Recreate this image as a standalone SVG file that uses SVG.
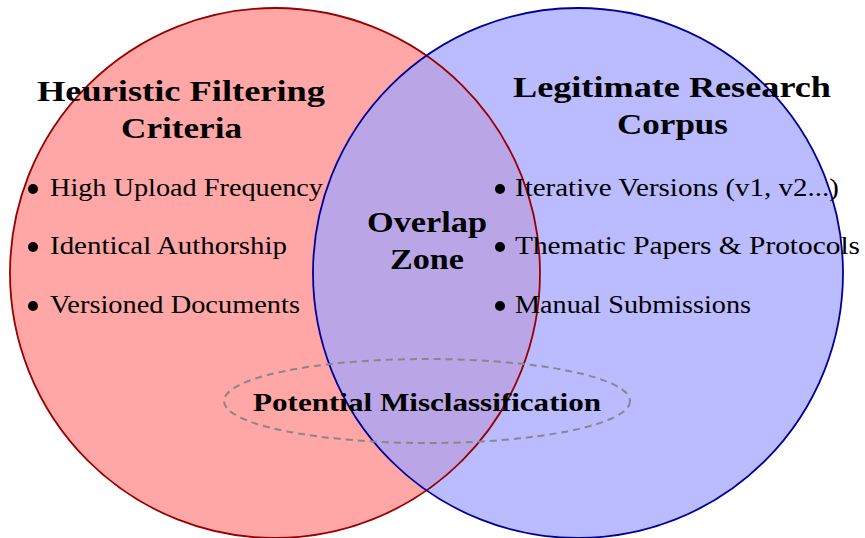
<svg xmlns="http://www.w3.org/2000/svg" width="865" height="538" viewBox="0 0 865 538">
<style>
.t{font-family:"Liberation Serif","Times New Roman",serif;fill:#000}
.b{font-weight:bold;font-size:30px;text-anchor:middle}
.r{font-size:26px}
.dot{fill:#000}
</style>
<defs>
<clipPath id="clipRed"><circle cx="275" cy="273" r="265"/></clipPath>
</defs>
<rect width="865" height="538" fill="#fff"/>
<g id="set-heuristic">
<circle cx="275" cy="273" r="265" fill="#FFA6A6"/>
</g>
<g id="set-legitimate">
<circle cx="578" cy="273" r="265" fill="#BBBBFF"/>
</g>
<g id="overlap">
<circle cx="578" cy="273" r="265" fill="#BAA6E6" clip-path="url(#clipRed)"/>
</g>
<g id="outlines">
<circle cx="275" cy="273" r="265" fill="none" stroke="#990000" stroke-width="1.8"/>
<circle cx="578" cy="273" r="265" fill="none" stroke="#000099" stroke-width="1.8"/>
</g>
<g id="misclassification">
<ellipse cx="427" cy="401" rx="203" ry="42" fill="none" stroke="#888" stroke-width="2" stroke-dasharray="7,5"/>
<text class="t b" x="427" y="411" textLength="348" lengthAdjust="spacingAndGlyphs" style="font-size:26px">Potential Misclassification</text>
</g>
<g id="heuristic-labels">
<text class="t b" x="181" y="101" textLength="288" lengthAdjust="spacingAndGlyphs">Heuristic Filtering</text>
<text class="t b" x="181.5" y="138" textLength="121" lengthAdjust="spacingAndGlyphs">Criteria</text>
<circle class="dot" cx="33" cy="189" r="5"/>
<text class="t r" x="50" y="196" textLength="273" lengthAdjust="spacingAndGlyphs">High Upload Frequency</text>
<circle class="dot" cx="33" cy="247" r="5"/>
<text class="t r" x="50" y="254" textLength="237" lengthAdjust="spacingAndGlyphs">Identical Authorship</text>
<circle class="dot" cx="33" cy="306" r="5"/>
<text class="t r" x="50" y="313" textLength="250" lengthAdjust="spacingAndGlyphs">Versioned Documents</text>
</g>
<g id="legitimate-labels">
<text class="t b" x="672" y="97" textLength="318" lengthAdjust="spacingAndGlyphs">Legitimate Research</text>
<text class="t b" x="672.5" y="134" textLength="111" lengthAdjust="spacingAndGlyphs">Corpus</text>
<circle class="dot" cx="500" cy="189" r="5"/>
<text class="t r" x="515" y="196" textLength="324" lengthAdjust="spacingAndGlyphs">Iterative Versions (v1, v2...)</text>
<circle class="dot" cx="500" cy="247" r="5"/>
<text class="t r" x="515" y="254" textLength="345" lengthAdjust="spacingAndGlyphs">Thematic Papers &amp; Protocols</text>
<circle class="dot" cx="500" cy="306" r="5"/>
<text class="t r" x="515" y="313" textLength="236" lengthAdjust="spacingAndGlyphs">Manual Submissions</text>
</g>
<g id="overlap-label">
<text class="t b" x="427" y="232" textLength="120" lengthAdjust="spacingAndGlyphs">Overlap</text>
<text class="t b" x="427" y="269" textLength="74" lengthAdjust="spacingAndGlyphs">Zone</text>
</g>
</svg>
